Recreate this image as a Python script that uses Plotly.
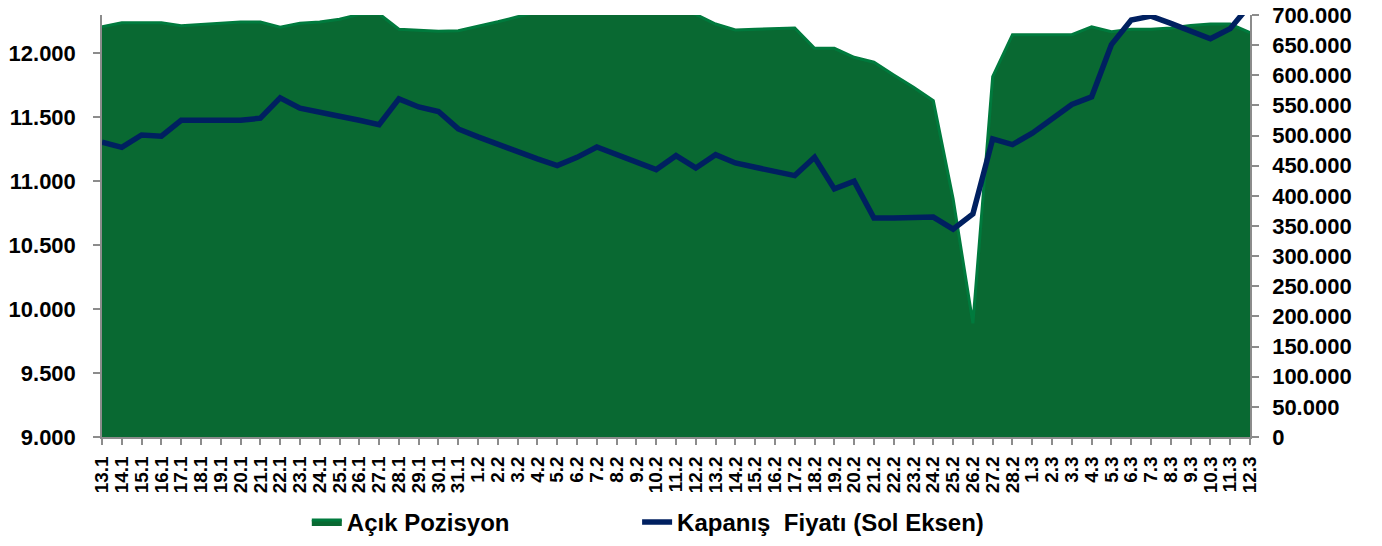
import plotly.graph_objects as go

dates = ["13.1", "14.1", "15.1", "16.1", "17.1", "18.1", "19.1", "20.1", "21.1", "22.1",
         "23.1", "24.1", "25.1", "26.1", "27.1", "28.1", "29.1", "30.1", "31.1",
         "1.2", "2.2", "3.2", "4.2", "5.2", "6.2", "7.2", "8.2", "9.2", "10.2",
         "11.2", "12.2", "13.2", "14.2", "15.2", "16.2", "17.2", "18.2", "19.2", "20.2",
         "21.2", "22.2", "23.2", "24.2", "25.2", "26.2", "27.2", "28.2",
         "1.3", "2.3", "3.3", "4.3", "5.3", "6.3", "7.3", "8.3", "9.3", "10.3", "11.3", "12.3"]

acik_pozisyon = [680600, 687200, 687200, 687200, 682300, 683900, 686200, 688400, 688400, 679600,
                 686200, 688400, 692900, 701000, 702000, 676300, 675100, 673000, 674000,
                 681000, 688700, 697000, 705000, 708000, 710000, 712000, 712000, 712000, 712000,
                 710000, 701000, 685100, 675100, 676300, 677400, 678500, 644800, 644800, 629900,
                 621600, 600500, 580100, 557900, 395000, 188600, 597700, 667300,
                 667300, 667300, 667300, 680600, 672300, 676300, 676300, 678500, 682700, 685100, 685100, 670700]

kapanis = [11305, 11265, 11362, 11352, 11477, 11477, 11477, 11477, 11493, 11652,
           11571, 11535, 11508, 11477, 11443, 11644, 11581, 11545, 11409,
           11347, 11287, 11226, 11175, 11122, 11187, 11268, 11208, 11148, 11091,
           11200, 11104, 11208, 11143, 11109, 11078, 11044, 11187, 10940, 11000,
           10713, 10713, 10713, 10720, 10626, 10744, 11331, 11287,
           11376, 11491, 11600, 11660, 12069, 12260, 12291, 12234, 12174, 12114, 12193, 12380]

FONT = "Liberation Sans, Arial, sans-serif"
AXIS_GRAY = "#8c8c8c"
LEG_FONT = dict(family=FONT, size=24, weight="bold", color="black")

fig = go.Figure()
fig.add_trace(go.Scatter(
    x=dates, y=acik_pozisyon, name="Açık Pozisyon", mode="lines",
    fill="tozeroy", fillcolor="#096932",
    line=dict(color="#007A3D", width=3),
    yaxis="y", legend="legend",
))
fig.add_trace(go.Scatter(
    x=dates, y=kapanis, name="Kapanış\u00a0 Fiyatı (Sol Eksen)", mode="lines",
    line=dict(color="#002060", width=5.5),
    yaxis="y2", legend="legend2",
))

fig.update_layout(
    width=1382, height=546,
    margin=dict(l=102, r=132, t=15, b=109, autoexpand=False),
    paper_bgcolor="white", plot_bgcolor="white",
    separators=",.",
    font=dict(family=FONT, color="black", size=18, weight="bold"),
    showlegend=True,
    legend=dict(orientation="h", xref="container", yref="container",
                x=0.222, y=0.002, xanchor="left", yanchor="bottom",
                font=LEG_FONT, bgcolor="rgba(0,0,0,0)"),
    legend2=dict(orientation="h", xref="container", yref="container",
                 x=0.461, y=0.002, xanchor="left", yanchor="bottom",
                 font=LEG_FONT, bgcolor="rgba(0,0,0,0)"),
    xaxis=dict(
        type="category", range=[0, len(dates) - 1], dtick=1, automargin=False,
        showline=True, linecolor=AXIS_GRAY, linewidth=1.5,
        ticks="outside", ticklen=6, tickcolor=AXIS_GRAY, tickwidth=1.5,
        tickangle=-90, ticklabelstandoff=4,
        tickfont=dict(family=FONT, size=19, weight="bold", color="black"),
        showgrid=False, zeroline=False,
    ),
    yaxis=dict(
        side="right", range=[0, 700000], dtick=50000, tickformat=",d", automargin=False,
        showline=True, linecolor=AXIS_GRAY, linewidth=1.5,
        ticks="outside", ticklen=7, tickcolor=AXIS_GRAY, tickwidth=1.5,
        ticklabelstandoff=9,
        tickfont=dict(family=FONT, size=22, weight="bold", color="black"),
        showgrid=False, zeroline=False,
    ),
    yaxis2=dict(
        side="left", overlaying="y", range=[9000, 12300], dtick=500, tickformat=",d",
        automargin=False,
        showline=True, linecolor=AXIS_GRAY, linewidth=1.5,
        ticks="outside", ticklen=7, tickcolor=AXIS_GRAY, tickwidth=1.5,
        ticklabelstandoff=13,
        tickfont=dict(family=FONT, size=22, weight="bold", color="black"),
        showgrid=False, zeroline=False,
    ),
)

fig.write_html("out.html", config={"displayModeBar": False},
               post_script="document.body.style.margin='0';document.body.style.overflow='hidden';")
